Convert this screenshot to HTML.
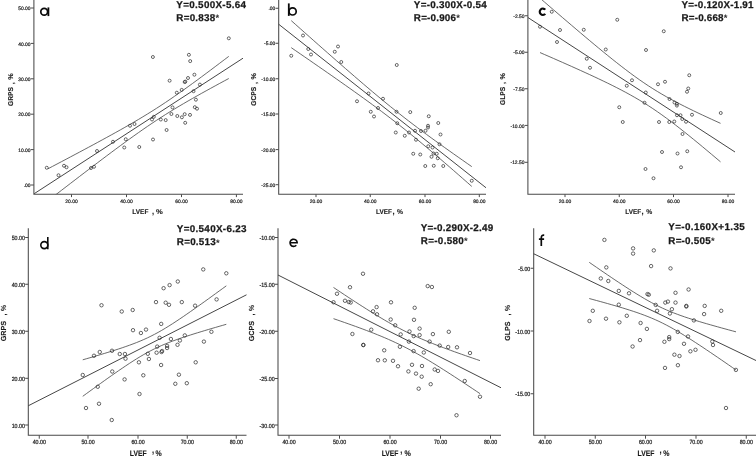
<!DOCTYPE html>
<html><head><meta charset="utf-8"><title>Scatter plots</title>
<style>
html,body{margin:0;padding:0;background:#fff;}
body{width:756px;height:456px;overflow:hidden;}
svg{display:block;font-family:"Liberation Sans",sans-serif;}
svg{filter:grayscale(1);text-rendering:geometricPrecision;}
</style></head><body>
<svg width="756" height="456" viewBox="0 0 756 456">
<rect width="756" height="456" fill="#fff"/>
<g id="pa">
<clipPath id="cla"><rect x="33.9" y="0" width="229.1" height="194.3"/></clipPath>
<path d="M33.9 0V194.3H243" fill="none" stroke="#4a4a4a" stroke-width="1.05"/>
<path d="M30.799999999999997 8H33.9M30.799999999999997 43.4H33.9M30.799999999999997 78.8H33.9M30.799999999999997 114.2H33.9M30.799999999999997 149.6H33.9M30.799999999999997 185H33.9M71.5 194.3V197.10000000000002M126.5 194.3V197.10000000000002M181.5 194.3V197.10000000000002M236.4 194.3V197.10000000000002" fill="none" stroke="#4a4a4a" stroke-width="1"/>
<g font-size="4.95" fill="#222" stroke="#222" stroke-width="0.2">
<text transform="translate(30.5 10.13) scale(1 1.0)" text-anchor="end">50.00</text>
<text transform="translate(30.5 45.53) scale(1 1.0)" text-anchor="end">40.00</text>
<text transform="translate(30.5 80.93) scale(1 1.0)" text-anchor="end">30.00</text>
<text transform="translate(30.5 116.33) scale(1 1.0)" text-anchor="end">20.00</text>
<text transform="translate(30.5 151.73) scale(1 1.0)" text-anchor="end">10.00</text>
<text transform="translate(30.5 187.13) scale(1 1.0)" text-anchor="end">.00</text>
<text transform="translate(71.5 202.9) scale(1 1.0)" text-anchor="middle">20.00</text>
<text transform="translate(126.5 202.9) scale(1 1.0)" text-anchor="middle">40.00</text>
<text transform="translate(181.5 202.9) scale(1 1.0)" text-anchor="middle">60.00</text>
<text transform="translate(236.4 202.9) scale(1 1.0)" text-anchor="middle">80.00</text>
</g>
<g transform="translate(13.2 0) rotate(-90)" font-size="7.0" font-weight="bold" fill="#1a1a1a" stroke="#1a1a1a" stroke-width="0.12"><text x="-106" y="0" textLength="19" lengthAdjust="spacingAndGlyphs">GRPS</text><text x="-84.2" y="0.3">,</text><text x="-79.7" y="0" textLength="6.5" lengthAdjust="spacingAndGlyphs">%</text></g>
<g transform="translate(0 213.6) scale(1 1.0)" font-size="6.9" font-weight="bold" fill="#1a1a1a" stroke="#1a1a1a" stroke-width="0.12"><text x="132.3" y="0" textLength="16.1" lengthAdjust="spacingAndGlyphs">LVEF</text><text x="151.9" y="0.2" font-size="7.6">,</text><text x="156.1" y="0" textLength="6.8" lengthAdjust="spacingAndGlyphs">%</text></g>
<path d="M34.2 193.7L243 58.2" stroke="#3c3c3c" stroke-width="0.95" fill="none"/>
<path d="M48.00 168.77L52.52 166.39L57.04 164.01L61.56 161.63L66.08 159.24L70.59 156.85L75.11 154.45L79.63 152.05L84.15 149.64L88.67 147.22L93.19 144.79L97.71 142.35L102.22 139.89L106.74 137.42L111.26 134.94L115.78 132.44L120.30 129.91L124.82 127.36L129.34 124.77L133.86 122.15L138.38 119.50L142.89 116.79L147.41 114.04L151.93 111.23L156.45 108.36L160.97 105.43L165.49 102.44L170.01 99.39L174.53 96.29L179.04 93.14L183.56 89.94L188.08 86.69L192.60 83.42L197.12 80.11L201.64 76.77L206.16 73.42L210.68 70.04L215.19 66.64L219.71 63.23L224.23 59.81L228.75 56.38" stroke="#444" stroke-width="0.8" fill="none" clip-path="url(#cla)"/>
<path d="M48.00 200.72L52.52 197.23L57.04 193.75L61.56 190.27L66.08 186.79L70.59 183.32L75.11 179.85L79.63 176.39L84.15 172.94L88.67 169.49L93.19 166.05L97.71 162.63L102.22 159.22L106.74 155.82L111.26 152.44L115.78 149.08L120.30 145.74L124.82 142.43L129.34 139.15L133.86 135.90L138.38 132.70L142.89 129.54L147.41 126.43L151.93 123.37L156.45 120.38L160.97 117.44L165.49 114.56L170.01 111.75L174.53 108.98L179.04 106.27L183.56 103.61L188.08 100.98L192.60 98.40L197.12 95.84L201.64 93.31L206.16 90.80L210.68 88.32L215.19 85.85L219.71 83.39L224.23 80.95L228.75 78.52" stroke="#444" stroke-width="0.8" fill="none" clip-path="url(#cla)"/>
<g fill="none" stroke="#2c2c2c" stroke-width="0.72">
<circle cx="46.75" cy="167.75" r="1.5"/>
<circle cx="58.5" cy="175.25" r="1.5"/>
<circle cx="64" cy="165.75" r="1.5"/>
<circle cx="66.5" cy="167.25" r="1.5"/>
<circle cx="91" cy="168" r="1.5"/>
<circle cx="94" cy="166.75" r="1.5"/>
<circle cx="97" cy="151" r="1.5"/>
<circle cx="113" cy="141.75" r="1.5"/>
<circle cx="124.25" cy="147.5" r="1.5"/>
<circle cx="125.75" cy="139.25" r="1.5"/>
<circle cx="130" cy="125.75" r="1.5"/>
<circle cx="134.5" cy="124" r="1.5"/>
<circle cx="139.25" cy="147" r="1.5"/>
<circle cx="153" cy="139.5" r="1.5"/>
<circle cx="152" cy="119.5" r="1.5"/>
<circle cx="153.8" cy="116.8" r="1.5"/>
<circle cx="160.8" cy="119.5" r="1.5"/>
<circle cx="165.7" cy="120.1" r="1.5"/>
<circle cx="166.6" cy="130" r="1.5"/>
<circle cx="171.4" cy="114" r="1.5"/>
<circle cx="177.3" cy="116" r="1.5"/>
<circle cx="181.9" cy="117.3" r="1.5"/>
<circle cx="185.2" cy="122.8" r="1.5"/>
<circle cx="184.7" cy="114.2" r="1.5"/>
<circle cx="190" cy="114.9" r="1.5"/>
<circle cx="228.8" cy="38.3" r="1.5"/>
<circle cx="152.9" cy="57" r="1.5"/>
<circle cx="188.9" cy="54.8" r="1.5"/>
<circle cx="190.2" cy="61.1" r="1.5"/>
<circle cx="194.4" cy="74.7" r="1.5"/>
<circle cx="188" cy="78" r="1.5"/>
<circle cx="169.6" cy="80.7" r="1.5"/>
<circle cx="184.7" cy="82" r="1.5"/>
<circle cx="185.3" cy="81.6" r="1.5"/>
<circle cx="199.9" cy="84.6" r="1.5"/>
<circle cx="181.7" cy="89.9" r="1.5"/>
<circle cx="176.8" cy="92.7" r="1.5"/>
<circle cx="193.5" cy="91.2" r="1.5"/>
<circle cx="195.9" cy="99.7" r="1.5"/>
<circle cx="194.8" cy="107.2" r="1.5"/>
<circle cx="197" cy="108.7" r="1.5"/>
<circle cx="172.5" cy="107.4" r="1.5"/>
</g>
<g font-size="9.85" font-weight="bold" fill="#1a1a1a" stroke="#1a1a1a" stroke-width="0.25">
<text x="176.35" y="7.6" textLength="69.65" lengthAdjust="spacing">Y=0.500X-5.64</text>
<text x="176.35" y="20.6" textLength="38.9" lengthAdjust="spacing">R=0.838</text>
<text x="215.45" y="21.400000000000002" font-size="9.4" fill="#333" stroke="none">*</text>
</g>
</g>
<g id="pb">
<clipPath id="clb"><rect x="278.7" y="0" width="227.3" height="194.3"/></clipPath>
<path d="M278.7 0V194.3H486" fill="none" stroke="#4a4a4a" stroke-width="1.05"/>
<path d="M275.59999999999997 8.25H278.7M275.59999999999997 43.25H278.7M275.59999999999997 78.75H278.7M275.59999999999997 114H278.7M275.59999999999997 149.6H278.7M275.59999999999997 184.7H278.7M316 194.3V197.10000000000002M370.25 194.3V197.10000000000002M425 194.3V197.10000000000002M479.3 194.3V197.10000000000002" fill="none" stroke="#4a4a4a" stroke-width="1"/>
<g font-size="4.95" fill="#222" stroke="#222" stroke-width="0.2">
<text transform="translate(275.3 10.38) scale(1 1.0)" text-anchor="end">.00</text>
<text transform="translate(275.3 45.38) scale(1 1.0)" text-anchor="end">-5.00</text>
<text transform="translate(275.3 80.88) scale(1 1.0)" text-anchor="end">-10.00</text>
<text transform="translate(275.3 116.13) scale(1 1.0)" text-anchor="end">-15.00</text>
<text transform="translate(275.3 151.73) scale(1 1.0)" text-anchor="end">-20.00</text>
<text transform="translate(275.3 186.83) scale(1 1.0)" text-anchor="end">-25.00</text>
<text transform="translate(316 202.9) scale(1 1.0)" text-anchor="middle">20.00</text>
<text transform="translate(370.25 202.9) scale(1 1.0)" text-anchor="middle">40.00</text>
<text transform="translate(425 202.9) scale(1 1.0)" text-anchor="middle">60.00</text>
<text transform="translate(479.3 202.9) scale(1 1.0)" text-anchor="middle">80.00</text>
</g>
<g transform="translate(256.4 0) rotate(-90)" font-size="7.0" font-weight="bold" fill="#1a1a1a" stroke="#1a1a1a" stroke-width="0.12"><text x="-105.8" y="0" textLength="19" lengthAdjust="spacingAndGlyphs">GCPS</text><text x="-84" y="0.3">,</text><text x="-79.5" y="0" textLength="6.5" lengthAdjust="spacingAndGlyphs">%</text></g>
<g transform="translate(0 213.6) scale(1 1.0)" font-size="6.9" font-weight="bold" fill="#1a1a1a" stroke="#1a1a1a" stroke-width="0.12"><text x="376.1" y="0" textLength="15.9" lengthAdjust="spacingAndGlyphs">LVEF</text><text x="392.4" y="0.2" font-size="7.6">,</text><text x="397.1" y="0" textLength="6.0" lengthAdjust="spacingAndGlyphs">%</text></g>
<path d="M278.7 24.25L486 187.75" stroke="#3c3c3c" stroke-width="0.95" fill="none"/>
<path d="M291.25 20.63L295.76 24.65L300.27 28.66L304.79 32.68L309.30 36.68L313.81 40.68L318.32 44.68L322.84 48.66L327.35 52.64L331.86 56.62L336.38 60.58L340.89 64.53L345.40 68.47L349.91 72.39L354.43 76.30L358.94 80.19L363.45 84.06L367.96 87.90L372.48 91.72L376.99 95.51L381.50 99.26L386.01 102.97L390.52 106.65L395.04 110.28L399.55 113.86L404.06 117.41L408.57 120.90L413.09 124.35L417.60 127.77L422.11 131.14L426.62 134.48L431.14 137.79L435.65 141.06L440.16 144.32L444.68 147.55L449.19 150.76L453.70 153.96L458.21 157.14L462.73 160.31L467.24 163.47L471.75 166.62" stroke="#444" stroke-width="0.8" fill="none" clip-path="url(#clb)"/>
<path d="M291.25 47.66L295.76 50.76L300.27 53.87L304.79 56.98L309.30 60.09L313.81 63.21L318.32 66.33L322.84 69.46L327.35 72.60L331.86 75.74L336.38 78.90L340.89 82.07L345.40 85.25L349.91 88.44L354.43 91.65L358.94 94.88L363.45 98.13L367.96 101.40L372.48 104.70L376.99 108.03L381.50 111.40L386.01 114.80L390.52 118.25L395.04 121.74L399.55 125.27L404.06 128.84L408.57 132.47L413.09 136.13L417.60 139.84L422.11 143.58L426.62 147.36L431.14 151.17L435.65 155.01L440.16 158.88L444.68 162.76L449.19 166.67L453.70 170.59L458.21 174.52L462.73 178.47L467.24 182.43L471.75 186.40" stroke="#444" stroke-width="0.8" fill="none" clip-path="url(#clb)"/>
<g fill="none" stroke="#2c2c2c" stroke-width="0.72">
<circle cx="291.25" cy="55.75" r="1.5"/>
<circle cx="303" cy="35.5" r="1.5"/>
<circle cx="308.25" cy="49" r="1.5"/>
<circle cx="311" cy="54.5" r="1.5"/>
<circle cx="334.75" cy="51.75" r="1.5"/>
<circle cx="338" cy="46.5" r="1.5"/>
<circle cx="341.25" cy="62" r="1.5"/>
<circle cx="368.5" cy="93.5" r="1.5"/>
<circle cx="357" cy="101.25" r="1.5"/>
<circle cx="370.75" cy="111.75" r="1.5"/>
<circle cx="378" cy="108" r="1.5"/>
<circle cx="396.75" cy="65" r="1.5"/>
<circle cx="383" cy="98.75" r="1.5"/>
<circle cx="396.5" cy="111.75" r="1.5"/>
<circle cx="410.25" cy="112.1" r="1.5"/>
<circle cx="374" cy="116.5" r="1.5"/>
<circle cx="397.25" cy="123.25" r="1.5"/>
<circle cx="395.75" cy="132.5" r="1.5"/>
<circle cx="404.75" cy="135.75" r="1.5"/>
<circle cx="409" cy="132.5" r="1.5"/>
<circle cx="415" cy="130.75" r="1.5"/>
<circle cx="416" cy="139.75" r="1.5"/>
<circle cx="421" cy="131" r="1.5"/>
<circle cx="425.5" cy="130.75" r="1.5"/>
<circle cx="428" cy="125.75" r="1.5"/>
<circle cx="428" cy="127.5" r="1.5"/>
<circle cx="428.75" cy="116.25" r="1.5"/>
<circle cx="438.25" cy="123" r="1.5"/>
<circle cx="440.5" cy="134.5" r="1.5"/>
<circle cx="439.5" cy="144.25" r="1.5"/>
<circle cx="428.25" cy="146.25" r="1.5"/>
<circle cx="432.5" cy="147.5" r="1.5"/>
<circle cx="413.25" cy="153.75" r="1.5"/>
<circle cx="420.25" cy="154.5" r="1.5"/>
<circle cx="433.5" cy="153.5" r="1.5"/>
<circle cx="436.75" cy="153.75" r="1.5"/>
<circle cx="431.5" cy="156.75" r="1.5"/>
<circle cx="437.75" cy="158.25" r="1.5"/>
<circle cx="425.25" cy="166" r="1.5"/>
<circle cx="433.75" cy="165.75" r="1.5"/>
<circle cx="443.25" cy="166" r="1.5"/>
<circle cx="471.75" cy="180.75" r="1.5"/>
</g>
<g font-size="9.85" font-weight="bold" fill="#1a1a1a" stroke="#1a1a1a" stroke-width="0.25">
<text x="413.85" y="7.6" textLength="72.9" lengthAdjust="spacing">Y=-0.300X-0.54</text>
<text x="413.85" y="20.6" textLength="42.1" lengthAdjust="spacing">R=-0.906</text>
<text x="456.15" y="21.400000000000002" font-size="9.4" fill="#333" stroke="none">*</text>
</g>
</g>
<g id="pc">
<clipPath id="clc"><rect x="527.9" y="0" width="227.10000000000002" height="194.3"/></clipPath>
<path d="M527.9 0V194.3H735" fill="none" stroke="#4a4a4a" stroke-width="1.05"/>
<path d="M524.8 15.75H527.9M524.8 52.25H527.9M524.8 88.75H527.9M524.8 125.4H527.9M524.8 162.3H527.9M565 194.3V197.10000000000002M619.25 194.3V197.10000000000002M673.5 194.3V197.10000000000002M728 194.3V197.10000000000002" fill="none" stroke="#4a4a4a" stroke-width="1"/>
<g font-size="4.95" fill="#222" stroke="#222" stroke-width="0.2">
<text transform="translate(524.5 17.88) scale(1 1.0)" text-anchor="end">-2.50</text>
<text transform="translate(524.5 54.38) scale(1 1.0)" text-anchor="end">-5.00</text>
<text transform="translate(524.5 90.88) scale(1 1.0)" text-anchor="end">-7.50</text>
<text transform="translate(524.5 127.53) scale(1 1.0)" text-anchor="end">-10.00</text>
<text transform="translate(524.5 164.43) scale(1 1.0)" text-anchor="end">-12.50</text>
<text transform="translate(565 202.9) scale(1 1.0)" text-anchor="middle">20.00</text>
<text transform="translate(619.25 202.9) scale(1 1.0)" text-anchor="middle">40.00</text>
<text transform="translate(673.5 202.9) scale(1 1.0)" text-anchor="middle">60.00</text>
<text transform="translate(728 202.9) scale(1 1.0)" text-anchor="middle">80.00</text>
</g>
<g transform="translate(504.9 0) rotate(-90)" font-size="7.0" font-weight="bold" fill="#1a1a1a" stroke="#1a1a1a" stroke-width="0.12"><text x="-105.1" y="0" textLength="18.3" lengthAdjust="spacingAndGlyphs">GLPS</text><text x="-84" y="0.3">,</text><text x="-79.4" y="0" textLength="6.5" lengthAdjust="spacingAndGlyphs">%</text></g>
<g transform="translate(0 213.6) scale(1 1.0)" font-size="6.9" font-weight="bold" fill="#1a1a1a" stroke="#1a1a1a" stroke-width="0.12"><text x="625.3" y="0" textLength="15.9" lengthAdjust="spacingAndGlyphs">LVEF</text><text x="641.6" y="0.2" font-size="7.6">,</text><text x="646.3" y="0" textLength="6.0" lengthAdjust="spacingAndGlyphs">%</text></g>
<path d="M527.9 17.5L735 152" stroke="#3c3c3c" stroke-width="0.95" fill="none"/>
<path d="M540.00 -1.84L544.51 2.06L549.02 5.96L553.54 9.84L558.05 13.72L562.56 17.60L567.08 21.46L571.59 25.31L576.10 29.15L580.61 32.97L585.12 36.78L589.64 40.57L594.15 44.34L598.66 48.08L603.17 51.79L607.69 55.47L612.20 59.11L616.71 62.70L621.23 66.23L625.74 69.70L630.25 73.10L634.76 76.41L639.27 79.62L643.79 82.74L648.30 85.75L652.81 88.65L657.33 91.44L661.84 94.13L666.35 96.72L670.86 99.22L675.38 101.65L679.89 104.00L684.40 106.30L688.91 108.54L693.42 110.74L697.94 112.91L702.45 115.04L706.96 117.14L711.48 119.22L715.99 121.28L720.50 123.33" stroke="#444" stroke-width="0.8" fill="none" clip-path="url(#clc)"/>
<path d="M540.00 52.56L544.51 54.52L549.02 56.48L553.54 58.46L558.05 60.44L562.56 62.43L567.08 64.43L571.59 66.43L576.10 68.46L580.61 70.49L585.12 72.55L589.64 74.62L594.15 76.71L598.66 78.83L603.17 80.98L607.69 83.16L612.20 85.39L616.71 87.66L621.23 89.99L625.74 92.38L630.25 94.85L634.76 97.40L639.27 100.04L643.79 102.78L648.30 105.64L652.81 108.60L657.33 111.67L661.84 114.84L666.35 118.11L670.86 121.47L675.38 124.91L679.89 128.41L684.40 131.98L688.91 135.60L693.42 139.26L697.94 142.95L702.45 146.68L706.96 150.44L711.48 154.22L715.99 158.02L720.50 161.84" stroke="#444" stroke-width="0.8" fill="none" clip-path="url(#clc)"/>
<g fill="none" stroke="#2c2c2c" stroke-width="0.72">
<circle cx="551.75" cy="11.75" r="1.5"/>
<circle cx="540" cy="26.75" r="1.5"/>
<circle cx="560" cy="30" r="1.5"/>
<circle cx="557" cy="42" r="1.5"/>
<circle cx="583.75" cy="29.75" r="1.5"/>
<circle cx="617.25" cy="19.75" r="1.5"/>
<circle cx="605.75" cy="49.5" r="1.5"/>
<circle cx="586.75" cy="58.75" r="1.5"/>
<circle cx="590" cy="67.75" r="1.5"/>
<circle cx="626.75" cy="85.75" r="1.5"/>
<circle cx="619.25" cy="107.25" r="1.5"/>
<circle cx="663.75" cy="31.25" r="1.5"/>
<circle cx="646" cy="50" r="1.5"/>
<circle cx="689.25" cy="75.25" r="1.5"/>
<circle cx="632" cy="80.25" r="1.5"/>
<circle cx="658" cy="84.25" r="1.5"/>
<circle cx="665" cy="81.75" r="1.5"/>
<circle cx="688.25" cy="88.5" r="1.5"/>
<circle cx="687" cy="91.75" r="1.5"/>
<circle cx="645.75" cy="92.5" r="1.5"/>
<circle cx="669.5" cy="99" r="1.5"/>
<circle cx="674.5" cy="102.5" r="1.5"/>
<circle cx="676.9" cy="103.8" r="1.5"/>
<circle cx="676.9" cy="105.6" r="1.5"/>
<circle cx="644.5" cy="102.75" r="1.5"/>
<circle cx="720.75" cy="113" r="1.5"/>
<circle cx="692" cy="114.75" r="1.5"/>
<circle cx="677" cy="115.25" r="1.5"/>
<circle cx="680.5" cy="115.25" r="1.5"/>
<circle cx="682.25" cy="119" r="1.5"/>
<circle cx="686" cy="121.75" r="1.5"/>
<circle cx="622.75" cy="122" r="1.5"/>
<circle cx="659" cy="122" r="1.5"/>
<circle cx="669.25" cy="122" r="1.5"/>
<circle cx="674.25" cy="121.5" r="1.5"/>
<circle cx="682.5" cy="134" r="1.5"/>
<circle cx="662" cy="152" r="1.5"/>
<circle cx="677.5" cy="153.5" r="1.5"/>
<circle cx="687.25" cy="151.25" r="1.5"/>
<circle cx="681" cy="167.25" r="1.5"/>
<circle cx="645.5" cy="169" r="1.5"/>
<circle cx="653.5" cy="178.25" r="1.5"/>
</g>
<g font-size="9.85" font-weight="bold" fill="#1a1a1a" stroke="#1a1a1a" stroke-width="0.25">
<text x="681.6" y="7.6" textLength="71.9" lengthAdjust="spacing">Y=-0.120X-1.91</text>
<text x="681.6" y="20.6" textLength="41.9" lengthAdjust="spacing">R=-0.668</text>
<text x="723.7" y="21.400000000000002" font-size="9.4" fill="#333" stroke="none">*</text>
</g>
</g>
<g id="pd">
<clipPath id="cld"><rect x="28.3" y="228.3" width="238.2" height="207.0"/></clipPath>
<path d="M28.3 228.3V435.3H246.5" fill="none" stroke="#4a4a4a" stroke-width="1.05"/>
<path d="M25.2 237.5H28.3M25.2 284.25H28.3M25.2 331.25H28.3M25.2 378.3H28.3M25.2 425H28.3M39.25 435.3V438.7M88 435.3V438.7M138 435.3V438.7M187.25 435.3V438.7M236.25 435.3V438.7" fill="none" stroke="#4a4a4a" stroke-width="1"/>
<g font-size="5.3" fill="#222" stroke="#222" stroke-width="0.2">
<text transform="translate(24.900000000000002 240.04) scale(1 1.15)" text-anchor="end">50.00</text>
<text transform="translate(24.900000000000002 286.79) scale(1 1.15)" text-anchor="end">40.00</text>
<text transform="translate(24.900000000000002 333.79) scale(1 1.15)" text-anchor="end">30.00</text>
<text transform="translate(24.900000000000002 380.84) scale(1 1.15)" text-anchor="end">20.00</text>
<text transform="translate(24.900000000000002 427.54) scale(1 1.15)" text-anchor="end">10.00</text>
<text transform="translate(39.25 444.3) scale(1 1.15)" text-anchor="middle">40.00</text>
<text transform="translate(88 444.3) scale(1 1.15)" text-anchor="middle">50.00</text>
<text transform="translate(138 444.3) scale(1 1.15)" text-anchor="middle">60.00</text>
<text transform="translate(187.25 444.3) scale(1 1.15)" text-anchor="middle">70.00</text>
<text transform="translate(236.25 444.3) scale(1 1.15)" text-anchor="middle">80.00</text>
</g>
<g transform="translate(5.9 0) rotate(-90)" font-size="7.3" font-weight="bold" fill="#1a1a1a" stroke="#1a1a1a" stroke-width="0.12"><text x="-341.3" y="0" textLength="20.4" lengthAdjust="spacingAndGlyphs">GRPS</text><text x="-315.5" y="0.3">,</text><text x="-311.1" y="0" textLength="6.0" lengthAdjust="spacingAndGlyphs">%</text></g>
<g transform="translate(0 456.0) scale(1 1.17)" font-size="6.9" font-weight="bold" fill="#1a1a1a" stroke="#1a1a1a" stroke-width="0.12"><text x="129.8" y="0" textLength="16.8" lengthAdjust="spacingAndGlyphs">LVEF</text><text x="151.9" y="-2.3" font-size="7.6">,</text><text x="155.6" y="0" textLength="6.2" lengthAdjust="spacingAndGlyphs">%</text></g>
<path d="M28.3 405.75L246.5 294.8" stroke="#3c3c3c" stroke-width="0.95" fill="none"/>
<path d="M82.75 359.81L86.34 358.78L89.93 357.74L93.52 356.69L97.11 355.63L100.69 354.56L104.28 353.48L107.87 352.38L111.46 351.26L115.05 350.12L118.64 348.96L122.23 347.77L125.81 346.53L129.40 345.26L132.99 343.93L136.58 342.55L140.17 341.09L143.76 339.54L147.35 337.91L150.94 336.17L154.53 334.34L158.11 332.40L161.70 330.36L165.29 328.23L168.88 326.02L172.47 323.75L176.06 321.41L179.65 319.02L183.24 316.60L186.82 314.13L190.41 311.64L194.00 309.12L197.59 306.59L201.18 304.03L204.77 301.46L208.36 298.88L211.94 296.29L215.53 293.68L219.12 291.07L222.71 288.46L226.30 285.83" stroke="#444" stroke-width="0.8" fill="none" clip-path="url(#cld)"/>
<path d="M82.75 396.31L86.34 393.70L89.93 391.09L93.52 388.49L97.11 385.90L100.69 383.32L104.28 380.75L107.87 378.20L111.46 375.67L115.05 373.16L118.64 370.67L122.23 368.22L125.81 365.80L129.40 363.42L132.99 361.10L136.58 358.84L140.17 356.65L143.76 354.54L147.35 352.53L150.94 350.61L154.53 348.80L158.11 347.09L161.70 345.48L165.29 343.95L168.88 342.51L172.47 341.14L176.06 339.83L179.65 338.56L183.24 337.34L186.82 336.16L190.41 335.00L194.00 333.87L197.59 332.75L201.18 331.66L204.77 330.58L208.36 329.51L211.94 328.45L215.53 327.41L219.12 326.37L222.71 325.34L226.30 324.31" stroke="#444" stroke-width="0.8" fill="none" clip-path="url(#cld)"/>
<g fill="none" stroke="#2c2c2c" stroke-width="0.72">
<circle cx="101.5" cy="305.25" r="1.72"/>
<circle cx="121.75" cy="311.5" r="1.72"/>
<circle cx="82.75" cy="375" r="1.72"/>
<circle cx="94" cy="355.75" r="1.72"/>
<circle cx="99.75" cy="352" r="1.72"/>
<circle cx="112" cy="350.75" r="1.72"/>
<circle cx="119.75" cy="354" r="1.72"/>
<circle cx="124.9" cy="354" r="1.72"/>
<circle cx="125.5" cy="358.7" r="1.72"/>
<circle cx="112.25" cy="371.5" r="1.72"/>
<circle cx="97.75" cy="386.75" r="1.72"/>
<circle cx="124.6" cy="379.4" r="1.72"/>
<circle cx="86" cy="408" r="1.72"/>
<circle cx="99" cy="403.75" r="1.72"/>
<circle cx="111.75" cy="420" r="1.72"/>
<circle cx="203.25" cy="269.4" r="1.72"/>
<circle cx="226.3" cy="273.3" r="1.72"/>
<circle cx="177.8" cy="281.5" r="1.72"/>
<circle cx="169.6" cy="285.1" r="1.72"/>
<circle cx="163.6" cy="288.2" r="1.72"/>
<circle cx="216.6" cy="299.4" r="1.72"/>
<circle cx="156" cy="302.1" r="1.72"/>
<circle cx="165.7" cy="302.7" r="1.72"/>
<circle cx="169" cy="304.8" r="1.72"/>
<circle cx="181.8" cy="302.1" r="1.72"/>
<circle cx="195.1" cy="305.7" r="1.72"/>
<circle cx="132.7" cy="310" r="1.72"/>
<circle cx="161.2" cy="323.9" r="1.72"/>
<circle cx="133" cy="330.2" r="1.72"/>
<circle cx="140.9" cy="333" r="1.72"/>
<circle cx="146" cy="329.6" r="1.72"/>
<circle cx="211.4" cy="331.8" r="1.72"/>
<circle cx="184.8" cy="335.4" r="1.72"/>
<circle cx="159.6" cy="337.8" r="1.72"/>
<circle cx="170.9" cy="339" r="1.72"/>
<circle cx="179.9" cy="340.5" r="1.72"/>
<circle cx="203.9" cy="341.6" r="1.72"/>
<circle cx="177.5" cy="344.8" r="1.72"/>
<circle cx="157.2" cy="346.6" r="1.72"/>
<circle cx="167.1" cy="345.9" r="1.72"/>
<circle cx="167.1" cy="348" r="1.72"/>
<circle cx="162.1" cy="351" r="1.72"/>
<circle cx="161.5" cy="352" r="1.72"/>
<circle cx="156.6" cy="352.7" r="1.72"/>
<circle cx="147.8" cy="353.8" r="1.72"/>
<circle cx="148.9" cy="359" r="1.72"/>
<circle cx="138.9" cy="362.3" r="1.72"/>
<circle cx="195.7" cy="362.3" r="1.72"/>
<circle cx="161.1" cy="365" r="1.72"/>
<circle cx="143.3" cy="375.3" r="1.72"/>
<circle cx="178.9" cy="374.7" r="1.72"/>
<circle cx="175.3" cy="383.8" r="1.72"/>
<circle cx="186.8" cy="383.2" r="1.72"/>
<circle cx="139.5" cy="394" r="1.72"/>
</g>
<g font-size="9.85" font-weight="bold" fill="#1a1a1a" stroke="#1a1a1a" stroke-width="0.25">
<text x="176.79999999999998" y="232.2" textLength="69.7" lengthAdjust="spacing">Y=0.540X-6.23</text>
<text x="176.79999999999998" y="245.4" textLength="39.0" lengthAdjust="spacing">R=0.513</text>
<text x="215.99999999999997" y="246.20000000000002" font-size="9.4" fill="#333" stroke="none">*</text>
</g>
</g>
<g id="pe">
<clipPath id="cle"><rect x="278" y="228.3" width="243" height="207.0"/></clipPath>
<path d="M278 228.3V435.3H501" fill="none" stroke="#4a4a4a" stroke-width="1.05"/>
<path d="M274.9 237.5H278M274.9 284.25H278M274.9 331.25H278M274.9 378.5H278M274.9 425H278M289 435.3V438.7M339.5 435.3V438.7M390 435.3V438.7M440.5 435.3V438.7M490.5 435.3V438.7" fill="none" stroke="#4a4a4a" stroke-width="1"/>
<g font-size="5.3" fill="#222" stroke="#222" stroke-width="0.2">
<text transform="translate(274.6 240.04) scale(1 1.15)" text-anchor="end">-10.00</text>
<text transform="translate(274.6 286.79) scale(1 1.15)" text-anchor="end">-15.00</text>
<text transform="translate(274.6 333.79) scale(1 1.15)" text-anchor="end">-20.00</text>
<text transform="translate(274.6 381.04) scale(1 1.15)" text-anchor="end">-25.00</text>
<text transform="translate(274.6 427.54) scale(1 1.15)" text-anchor="end">-30.00</text>
<text transform="translate(289 444.3) scale(1 1.15)" text-anchor="middle">40.00</text>
<text transform="translate(339.5 444.3) scale(1 1.15)" text-anchor="middle">50.00</text>
<text transform="translate(390 444.3) scale(1 1.15)" text-anchor="middle">60.00</text>
<text transform="translate(440.5 444.3) scale(1 1.15)" text-anchor="middle">70.00</text>
<text transform="translate(490.5 444.3) scale(1 1.15)" text-anchor="middle">80.00</text>
</g>
<g transform="translate(253.6 0) rotate(-90)" font-size="7.3" font-weight="bold" fill="#1a1a1a" stroke="#1a1a1a" stroke-width="0.12"><text x="-341.3" y="0" textLength="20.4" lengthAdjust="spacingAndGlyphs">GCPS</text><text x="-315.5" y="0.3">,</text><text x="-311.1" y="0" textLength="6.0" lengthAdjust="spacingAndGlyphs">%</text></g>
<g transform="translate(0 456.0) scale(1 1.17)" font-size="6.9" font-weight="bold" fill="#1a1a1a" stroke="#1a1a1a" stroke-width="0.12"><text x="381.7" y="0" textLength="16.7" lengthAdjust="spacingAndGlyphs">LVEF</text><text x="400.3" y="-2.3" font-size="7.6">,</text><text x="404.5" y="0" textLength="6.4" lengthAdjust="spacingAndGlyphs">%</text></g>
<path d="M278 275L501 387.75" stroke="#3c3c3c" stroke-width="0.95" fill="none"/>
<path d="M333.50 287.46L337.16 289.90L340.82 292.34L344.49 294.77L348.15 297.18L351.81 299.58L355.48 301.97L359.14 304.33L362.80 306.68L366.46 309.01L370.12 311.31L373.79 313.58L377.45 315.82L381.11 318.03L384.77 320.19L388.44 322.31L392.10 324.38L395.76 326.39L399.43 328.35L403.09 330.24L406.75 332.08L410.41 333.86L414.07 335.57L417.74 337.24L421.40 338.85L425.06 340.41L428.73 341.93L432.39 343.41L436.05 344.86L439.71 346.27L443.38 347.66L447.04 349.03L450.70 350.37L454.36 351.70L458.02 353.01L461.69 354.30L465.35 355.59L469.01 356.86L472.68 358.12L476.34 359.38L480.00 360.62" stroke="#444" stroke-width="0.8" fill="none" clip-path="url(#cle)"/>
<path d="M333.50 318.66L337.16 319.92L340.82 321.19L344.49 322.47L348.15 323.76L351.81 325.06L355.48 326.38L359.14 327.71L362.80 329.07L366.46 330.44L370.12 331.85L373.79 333.28L377.45 334.74L381.11 336.24L384.77 337.78L388.44 339.37L392.10 341.00L395.76 342.69L399.43 344.44L403.09 346.25L406.75 348.11L410.41 350.04L414.07 352.03L417.74 354.07L421.40 356.16L425.06 358.30L428.73 360.48L432.39 362.71L436.05 364.96L439.71 367.25L443.38 369.57L447.04 371.91L450.70 374.27L454.36 376.64L458.02 379.04L461.69 381.44L465.35 383.86L469.01 386.29L472.68 388.73L476.34 391.18L480.00 393.64" stroke="#444" stroke-width="0.8" fill="none" clip-path="url(#cle)"/>
<g fill="none" stroke="#2c2c2c" stroke-width="0.72">
<circle cx="363" cy="273.75" r="1.72"/>
<circle cx="350" cy="287.25" r="1.72"/>
<circle cx="337" cy="293.75" r="1.72"/>
<circle cx="333.5" cy="302.25" r="1.72"/>
<circle cx="345" cy="300.75" r="1.72"/>
<circle cx="348.75" cy="302" r="1.72"/>
<circle cx="350.7" cy="302.5" r="1.72"/>
<circle cx="376.6" cy="307.1" r="1.72"/>
<circle cx="373" cy="311.3" r="1.72"/>
<circle cx="377" cy="314.3" r="1.72"/>
<circle cx="371.25" cy="329.7" r="1.72"/>
<circle cx="352.4" cy="334" r="1.72"/>
<circle cx="427.7" cy="286.1" r="1.72"/>
<circle cx="431.9" cy="287" r="1.72"/>
<circle cx="391" cy="302.3" r="1.72"/>
<circle cx="414.7" cy="307.8" r="1.72"/>
<circle cx="390.7" cy="319.5" r="1.72"/>
<circle cx="414" cy="319.8" r="1.72"/>
<circle cx="395.2" cy="325.3" r="1.72"/>
<circle cx="409.5" cy="331.5" r="1.72"/>
<circle cx="419.6" cy="328.6" r="1.72"/>
<circle cx="419.6" cy="335.1" r="1.72"/>
<circle cx="413.7" cy="336.1" r="1.72"/>
<circle cx="400.7" cy="334.4" r="1.72"/>
<circle cx="432.9" cy="334.1" r="1.72"/>
<circle cx="448.8" cy="331.8" r="1.72"/>
<circle cx="408.9" cy="341.6" r="1.72"/>
<circle cx="429.6" cy="341.6" r="1.72"/>
<circle cx="363.3" cy="344.9" r="1.72"/>
<circle cx="363.3" cy="345.1" r="1.72"/>
<circle cx="399.9" cy="346.8" r="1.72"/>
<circle cx="384.2" cy="350.3" r="1.72"/>
<circle cx="439.7" cy="345.6" r="1.72"/>
<circle cx="448.2" cy="347" r="1.72"/>
<circle cx="457" cy="347.3" r="1.72"/>
<circle cx="470" cy="353" r="1.72"/>
<circle cx="413.6" cy="351.1" r="1.72"/>
<circle cx="423.8" cy="352.5" r="1.72"/>
<circle cx="378" cy="360.25" r="1.72"/>
<circle cx="384.8" cy="360.3" r="1.72"/>
<circle cx="393" cy="360.8" r="1.72"/>
<circle cx="398" cy="366.25" r="1.72"/>
<circle cx="412" cy="364.8" r="1.72"/>
<circle cx="422" cy="366" r="1.72"/>
<circle cx="408.4" cy="371.4" r="1.72"/>
<circle cx="416" cy="373.6" r="1.72"/>
<circle cx="421.7" cy="376.7" r="1.72"/>
<circle cx="434.7" cy="369.5" r="1.72"/>
<circle cx="438" cy="370.9" r="1.72"/>
<circle cx="430.7" cy="384.2" r="1.72"/>
<circle cx="418.7" cy="388.7" r="1.72"/>
<circle cx="464.75" cy="381" r="1.72"/>
<circle cx="480" cy="396.75" r="1.72"/>
<circle cx="456.5" cy="415.25" r="1.72"/>
</g>
<g font-size="9.85" font-weight="bold" fill="#1a1a1a" stroke="#1a1a1a" stroke-width="0.25">
<text x="420.8" y="230.6" textLength="72.4" lengthAdjust="spacing">Y=-0.290X-2.49</text>
<text x="420.8" y="243.6" textLength="43.0" lengthAdjust="spacing">R=-0.580</text>
<text x="464.0" y="244.4" font-size="9.4" fill="#333" stroke="none">*</text>
</g>
</g>
<g id="pf">
<clipPath id="clf"><rect x="533.7" y="228.3" width="243.29999999999995" height="207.0"/></clipPath>
<path d="M533.7 228.3V435.3H757" fill="none" stroke="#4a4a4a" stroke-width="1.05"/>
<path d="M530.6 268.25H533.7M530.6 331H533.7M530.6 393.75H533.7M545 435.3V438.7M595.25 435.3V438.7M645.5 435.3V438.7M696 435.3V438.7M746.25 435.3V438.7" fill="none" stroke="#4a4a4a" stroke-width="1"/>
<g font-size="5.3" fill="#222" stroke="#222" stroke-width="0.2">
<text transform="translate(530.3000000000001 270.79) scale(1 1.15)" text-anchor="end">-5.00</text>
<text transform="translate(530.3000000000001 333.54) scale(1 1.15)" text-anchor="end">-10.00</text>
<text transform="translate(530.3000000000001 396.29) scale(1 1.15)" text-anchor="end">-15.00</text>
<text transform="translate(545 444.3) scale(1 1.15)" text-anchor="middle">40.00</text>
<text transform="translate(595.25 444.3) scale(1 1.15)" text-anchor="middle">50.00</text>
<text transform="translate(645.5 444.3) scale(1 1.15)" text-anchor="middle">60.00</text>
<text transform="translate(696 444.3) scale(1 1.15)" text-anchor="middle">70.00</text>
<text transform="translate(746.25 444.3) scale(1 1.15)" text-anchor="middle">80.00</text>
</g>
<g transform="translate(509.9 0) rotate(-90)" font-size="7.3" font-weight="bold" fill="#1a1a1a" stroke="#1a1a1a" stroke-width="0.12"><text x="-340.7" y="0" textLength="19" lengthAdjust="spacingAndGlyphs">GLPS</text><text x="-315.5" y="0.3">,</text><text x="-311.1" y="0" textLength="6.0" lengthAdjust="spacingAndGlyphs">%</text></g>
<g transform="translate(0 456.0) scale(1 1.17)" font-size="6.9" font-weight="bold" fill="#1a1a1a" stroke="#1a1a1a" stroke-width="0.12"><text x="637.5" y="0" textLength="16.8" lengthAdjust="spacingAndGlyphs">LVEF</text><text x="659.6" y="-2.3" font-size="7.6">,</text><text x="663.3" y="0" textLength="6.2" lengthAdjust="spacingAndGlyphs">%</text></g>
<path d="M533.7 253.75L757 361" stroke="#3c3c3c" stroke-width="0.95" fill="none"/>
<path d="M589.25 262.33L592.92 264.87L596.59 267.39L600.26 269.91L603.92 272.42L607.59 274.91L611.26 277.40L614.93 279.86L618.60 282.31L622.27 284.73L625.94 287.13L629.61 289.50L633.27 291.83L636.94 294.12L640.61 296.35L644.28 298.53L647.95 300.64L651.62 302.66L655.29 304.60L658.96 306.45L662.62 308.20L666.29 309.85L669.96 311.41L673.63 312.89L677.30 314.28L680.97 315.62L684.64 316.89L688.31 318.11L691.98 319.30L695.64 320.45L699.31 321.56L702.98 322.66L706.65 323.73L710.32 324.78L713.99 325.82L717.66 326.84L721.33 327.86L724.99 328.86L728.66 329.86L732.33 330.85L736.00 331.83" stroke="#444" stroke-width="0.8" fill="none" clip-path="url(#clf)"/>
<path d="M589.25 298.53L592.92 299.52L596.59 300.52L600.26 301.52L603.92 302.54L607.59 303.57L611.26 304.61L614.93 305.67L618.60 306.74L622.27 307.84L625.94 308.97L629.61 310.13L633.27 311.32L636.94 312.56L640.61 313.84L644.28 315.19L647.95 316.61L651.62 318.11L655.29 319.69L658.96 321.37L662.62 323.15L666.29 325.02L669.96 326.98L673.63 329.03L677.30 331.16L680.97 333.35L684.64 335.60L688.31 337.90L691.98 340.24L695.64 342.62L699.31 345.02L702.98 347.45L706.65 349.91L710.32 352.38L713.99 354.86L717.66 357.36L721.33 359.87L724.99 362.39L728.66 364.92L732.33 367.46L736.00 370.00" stroke="#444" stroke-width="0.8" fill="none" clip-path="url(#clf)"/>
<g fill="none" stroke="#2c2c2c" stroke-width="0.72">
<circle cx="604.4" cy="239.9" r="1.72"/>
<circle cx="633.1" cy="248.4" r="1.72"/>
<circle cx="633.1" cy="253.6" r="1.72"/>
<circle cx="653.8" cy="250.4" r="1.72"/>
<circle cx="606.3" cy="267.4" r="1.72"/>
<circle cx="651.1" cy="266.1" r="1.72"/>
<circle cx="670.5" cy="268.4" r="1.72"/>
<circle cx="600.8" cy="278.4" r="1.72"/>
<circle cx="608.3" cy="281" r="1.72"/>
<circle cx="618.8" cy="290.9" r="1.72"/>
<circle cx="629" cy="293.3" r="1.72"/>
<circle cx="647.5" cy="294.1" r="1.72"/>
<circle cx="648.8" cy="294.7" r="1.72"/>
<circle cx="688.6" cy="289.5" r="1.72"/>
<circle cx="675.5" cy="292.8" r="1.72"/>
<circle cx="618.8" cy="304.7" r="1.72"/>
<circle cx="655.7" cy="304.9" r="1.72"/>
<circle cx="665.3" cy="302.6" r="1.72"/>
<circle cx="667.9" cy="301.6" r="1.72"/>
<circle cx="675.5" cy="302.6" r="1.72"/>
<circle cx="686.3" cy="305.9" r="1.72"/>
<circle cx="686.3" cy="306.5" r="1.72"/>
<circle cx="704.7" cy="305.9" r="1.72"/>
<circle cx="671.9" cy="309.2" r="1.72"/>
<circle cx="657.1" cy="310.8" r="1.72"/>
<circle cx="669.9" cy="313.5" r="1.72"/>
<circle cx="704.1" cy="314.1" r="1.72"/>
<circle cx="721.2" cy="310.8" r="1.72"/>
<circle cx="592.8" cy="310.8" r="1.72"/>
<circle cx="606" cy="318.7" r="1.72"/>
<circle cx="626.8" cy="315.8" r="1.72"/>
<circle cx="619.4" cy="322.3" r="1.72"/>
<circle cx="589.5" cy="321" r="1.72"/>
<circle cx="640.6" cy="323" r="1.72"/>
<circle cx="693.9" cy="320.4" r="1.72"/>
<circle cx="646.9" cy="328.9" r="1.72"/>
<circle cx="677.8" cy="331.9" r="1.72"/>
<circle cx="688" cy="336.5" r="1.72"/>
<circle cx="669.2" cy="337.1" r="1.72"/>
<circle cx="669.2" cy="339.1" r="1.72"/>
<circle cx="664.4" cy="341.8" r="1.72"/>
<circle cx="640" cy="340.1" r="1.72"/>
<circle cx="632.6" cy="346.5" r="1.72"/>
<circle cx="684" cy="343.8" r="1.72"/>
<circle cx="712.3" cy="341.5" r="1.72"/>
<circle cx="713" cy="345" r="1.72"/>
<circle cx="695.5" cy="349.8" r="1.72"/>
<circle cx="690.4" cy="351.3" r="1.72"/>
<circle cx="674.4" cy="354.7" r="1.72"/>
<circle cx="679.5" cy="356" r="1.72"/>
<circle cx="677.9" cy="365.2" r="1.72"/>
<circle cx="665" cy="367.9" r="1.72"/>
<circle cx="735.9" cy="369.9" r="1.72"/>
<circle cx="726" cy="408" r="1.72"/>
</g>
<g font-size="9.85" font-weight="bold" fill="#1a1a1a" stroke="#1a1a1a" stroke-width="0.25">
<text x="668.3000000000001" y="230.3" textLength="76.4" lengthAdjust="spacing">Y=-0.160X+1.35</text>
<text x="668.3000000000001" y="243.5" textLength="42.4" lengthAdjust="spacing">R=-0.505</text>
<text x="710.9000000000001" y="244.3" font-size="9.4" fill="#333" stroke="none">*</text>
</g>
</g>
<g fill="none" stroke="#0a0a0a" stroke-linecap="butt">
<circle cx="44.2" cy="11.8" r="3.4" stroke-width="1.7"/><path d="M48.4 7.4V16.1" stroke-width="1.8"/>
<circle cx="292.6" cy="11.4" r="3.6" stroke-width="1.7"/><path d="M288.8 3.4V15.9" stroke-width="1.8"/>
<path d="M545.3 9.6A3.2 3.2 0 1 0 545.3 13.9" stroke-width="2.15"/>
<circle cx="44.3" cy="245.1" r="3.5" stroke-width="1.6"/><path d="M47.8 237.1V249.3" stroke-width="1.6"/>
<path d="M290.2 242.8H297.2A3.6 3.6 0 1 0 296.3 245.2" stroke-width="1.6"/>
<path d="M541.3 246V237.9C541.3 235.7 542.3 235.1 544.2 235.2M538.9 239.1H544.1" stroke-width="1.7"/>
</g>
</svg>
</body></html>
